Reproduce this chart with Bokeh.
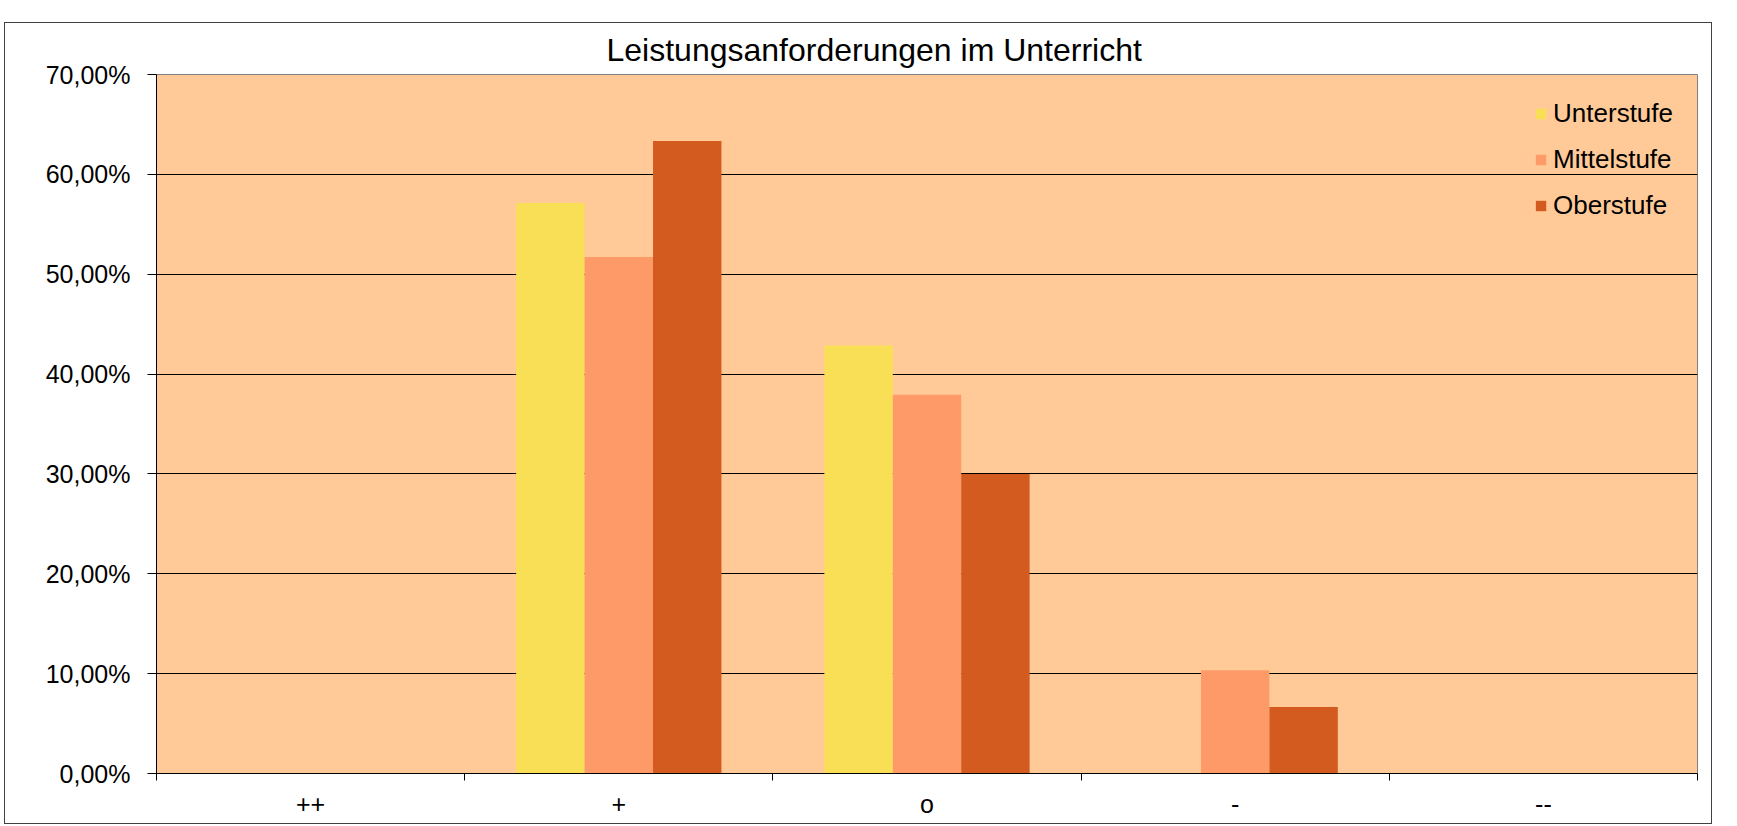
from bokeh.plotting import figure
from bokeh.models import FixedTicker, Legend, LegendItem, Range1d, Spacer
from bokeh.layouts import column, row
from bokeh.embed import file_html
from bokeh.resources import INLINE

categories = ["++", "+", "o", "-", "--"]
series_names = ["Unterstufe", "Mittelstufe", "Oberstufe"]
unterstufe = [0.0, 0.5714, 0.4286, 0.0, 0.0]
mittelstufe = [0.0, 0.5172, 0.3793, 0.1034, 0.0]
oberstufe = [0.0, 0.6333, 0.3000, 0.0667, 0.0]
series_values = [unterstufe, mittelstufe, oberstufe]
colors = ["#F9DF55", "#FE9A68", "#D35B20"]
y_ticks = [0.0, 0.1, 0.2, 0.3, 0.4, 0.5, 0.6, 0.7]
y_tick_labels = ["0,00%", "10,00%", "20,00%", "30,00%", "40,00%", "50,00%", "60,00%", "70,00%"]
title_text = "Leistungsanforderungen im Unterricht"

FONT = "Liberation Sans"
n = len(categories)
bw = 0.222

p = figure(width=1708, height=802, output_backend="svg", toolbar_location=None,
           x_range=Range1d(0, n), y_range=Range1d(0, 0.7),
           min_border_left=151, min_border_right=16, min_border_top=50, min_border_bottom=52,
           background_fill_color="#FFCA98", border_fill_color="white",
           outline_line_color="#808080", outline_line_width=1)
p.styles = {"border": "1px solid #404040"}

p.title.text = title_text
p.title.align = "left"
p.title.offset = 450
p.title.text_font = FONT
p.title.text_font_size = "32px"
p.title.text_font_style = "normal"
p.title.text_color = "black"
p.title.standoff = 13

renderers = []
for j, vals in enumerate(series_values):
    xs = [i + 0.5 + (j - 1) * bw for i in range(n)]
    r = p.vbar(x=xs, top=vals, width=bw, fill_color=colors[j], line_color=None)
    renderers.append(r)

# x axis
xa = p.xaxis[0]
xa.ticker = FixedTicker(ticks=[i + 0.5 for i in range(n)], minor_ticks=list(range(n + 1)))
xa.major_label_overrides = {i + 0.5: c for i, c in enumerate(categories)}
xa.major_tick_line_color = None
xa.major_tick_out = 0
xa.major_tick_in = 0
xa.minor_tick_line_color = "black"
xa.minor_tick_out = 7
xa.minor_tick_in = 0
xa.axis_line_color = "black"
xa.major_label_standoff = 9
xa.major_label_text_font = FONT
xa.major_label_text_font_size = "25px"
xa.major_label_text_color = "black"

# y axis
ya = p.yaxis[0]
ya.ticker = FixedTicker(ticks=y_ticks)
ya.major_label_overrides = {t: l for t, l in zip(y_ticks, y_tick_labels)}
ya.major_tick_line_color = "black"
ya.major_tick_out = 9
ya.major_tick_in = 0
ya.minor_tick_line_color = None
ya.axis_line_color = "black"
ya.major_label_standoff = 17
ya.major_label_text_font = FONT
ya.major_label_text_font_size = "25px"
ya.major_label_text_color = "black"

p.xgrid.grid_line_color = None
p.ygrid.grid_line_color = "black"
p.ygrid.grid_line_width = 1
p.ygrid.ticker = FixedTicker(ticks=y_ticks)

legend = Legend(items=[LegendItem(label=s, renderers=[r]) for s, r in zip(series_names, renderers)],
                location="top_right", border_line_color=None, background_fill_alpha=0,
                margin=24, padding=13, spacing=15, glyph_width=13, glyph_height=13,
                label_height=26, label_standoff=6,
                label_text_font=FONT, label_text_font_size="26px", label_text_color="black")
p.add_layout(legend)

layout = column(Spacer(height=22), row(Spacer(width=4), p))
open("out.html", "w").write(file_html(layout, INLINE))
